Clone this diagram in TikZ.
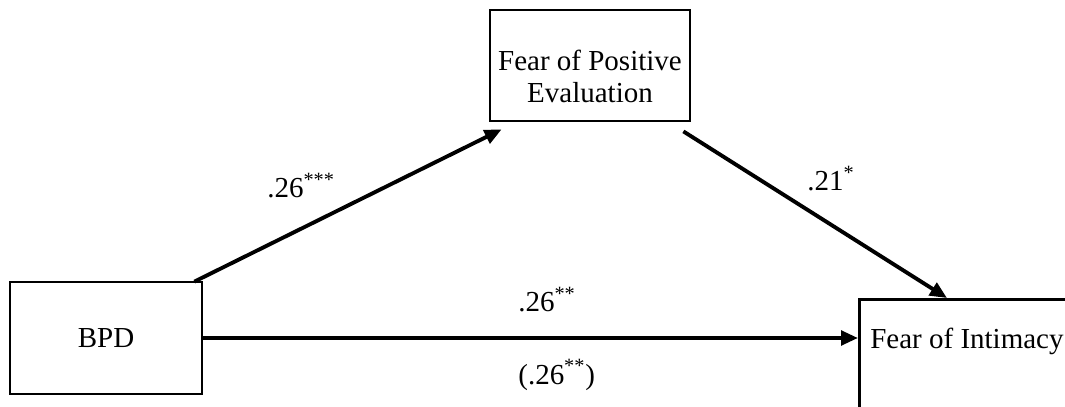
\documentclass[tikz,border=0pt]{standalone}
\usepackage{fontspec}
\setmainfont{Liberation Serif}
\usetikzlibrary{arrows.meta,calc}
\begin{document}
\begin{tikzpicture}[x=0.02cm,y=0.02cm,every node/.style={font=\fontsize{16.5}{18.7}\selectfont},
  varbox/.style={draw,line width=1.6pt,inner sep=0pt},
  link/.style={line width=2.2pt,-{Triangle[length=0.34cm,width=0.29cm]}},
  coef/.style={anchor=base west,inner sep=0pt}]
\useasboundingbox (0,0) rectangle (1065,406);
% mediation model: BPD -> fear of positive evaluation -> fear of intimacy
\node[varbox,minimum width=3.84cm,minimum height=2.24cm] (bpd) at (106,68) {BPD};
\node[varbox,minimum width=4cm,minimum height=2.22cm] (fpe) at (590,340.5) {};
\node[align=center,inner sep=0pt] (fpetext) at (590,329.5) {Fear of Positive\\Evaluation};
\node[varbox,anchor=north west,minimum width=4.6cm,minimum height=2.9cm] (foi) at (858,108) {};
\node[anchor=base west,inner sep=0pt] (foitext) at (870,58) {Fear of Intimacy};
% paths
\draw[link] ($(bpd.north east)+(-9,-1)$) -- ($(fpe.south west)+(13,-7)$);
\draw[link] ($(fpe.south east)+(-8,-9)$) -- ($(foi.north west)+(89,0)$);
\draw[link] (bpd.east) -- (bpd.east -| foi.west);
% coefficients
\node[coef] (a) at (267,208) {.26\textsuperscript{***}};
\node[coef] (b) at (807,215) {.21\textsuperscript{*}};
\node[coef] (c) at (518,94) {.26\textsuperscript{**}};
\node[coef] (cprime) at (518,22) {(.26\textsuperscript{**})};
\end{tikzpicture}
\end{document}
